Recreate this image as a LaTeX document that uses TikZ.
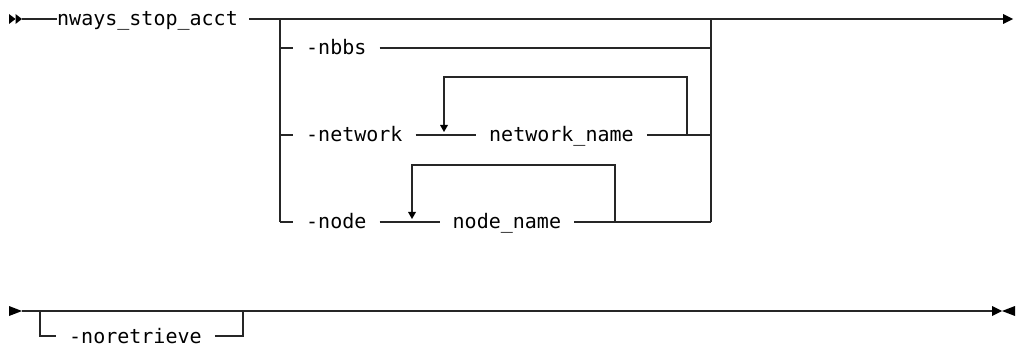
\documentclass[tikz,border=0pt]{standalone}
\usepackage{fontspec}
\newfontfamily\rrmono{DejaVu Sans Mono}
\tikzset{
  rail/.style={line width=1.3pt, draw=black!85},
  txt/.style={font=\rrmono\fontsize{20}{20}\selectfont, text=black, inner xsep=13pt, inner ysep=0pt,
              text height=14pt, text depth=0pt, anchor=west},
  tip/.style={fill=black},
}
\begin{document}
\begin{tikzpicture}[x=1pt,y=-1pt]
\useasboundingbox (0,0) rectangle (1019,347);
% ---- first row ----
\coordinate (s1) at (22,19);
\node[txt, inner xsep=0pt] (cmd) at (57,19) {nways\_stop\_acct};
\coordinate (L) at (280,19);
\coordinate (R) at (711,19);
\coordinate (e1) at (1003,19);
\fill[tip] (9,14) -- (15.5,19) -- (9,24) -- cycle;
\fill[tip] (15.5,14) -- (22,19) -- (15.5,24) -- cycle;
\fill[tip] (1003,14) -- (1013,19) -- (1003,24) -- cycle;
\draw[rail] (s1) -- (cmd.west);
\draw[rail] ([xshift=11pt]cmd.east) -- (e1);
% verticals
\draw[rail] (L) -- (280,222);
\draw[rail] (R) -- (711,222);
% -nbbs
\node[txt] (nb) at (293,48) {-nbbs};
\draw[rail] (280,48) -- (nb.west);
\draw[rail] (nb.east) -- (711,48);
% -network
\node[txt] (nw) at (293,135) {-network};
\node[txt] (nwn) at (476,135) {network\_name};
\draw[rail] (280,135) -- (nw.west);
\draw[rail] (nw.east) -- (nwn.west);
\draw[rail] (nwn.east) -- (711,135);
\coordinate (lp1) at (687,135);
\coordinate (lp1a) at (444,125);
\draw[rail] (lp1) |- (444,77) -- (lp1a);
\fill[tip] (440,125) -- (448,125) -- (444,132) -- cycle;
% -node
\node[txt] (nd) at (293,222) {-node};
\node[txt] (ndn) at (439.5,222) {node\_name};
\draw[rail] (280,222) -- (nd.west);
\draw[rail] (nd.east) -- (ndn.west);
\draw[rail] (ndn.east) -- (711,222);
\coordinate (lp2) at (615,222);
\coordinate (lp2a) at (412,212);
\draw[rail] (lp2) |- (412,165) -- (lp2a);
\fill[tip] (408,212) -- (416,212) -- (412,219) -- cycle;
% ---- second row ----
\coordinate (s2) at (22,311);
\coordinate (e2) at (992,311);
\fill[tip] (9,306) -- (22,311) -- (9,316) -- cycle;
\fill[tip] (992,306) -- (1002,311) -- (992,316) -- cycle;
\fill[tip] (1015,306) -- (1002,311) -- (1015,316) -- cycle;
\draw[rail] (s2) -- (e2);
\node[txt] (nr) at (56,336) {-noretrieve};
\draw[rail] (40,311) |- (nr.west);
\draw[rail] (nr.east) -| (243,311);
\end{tikzpicture}
\end{document}
